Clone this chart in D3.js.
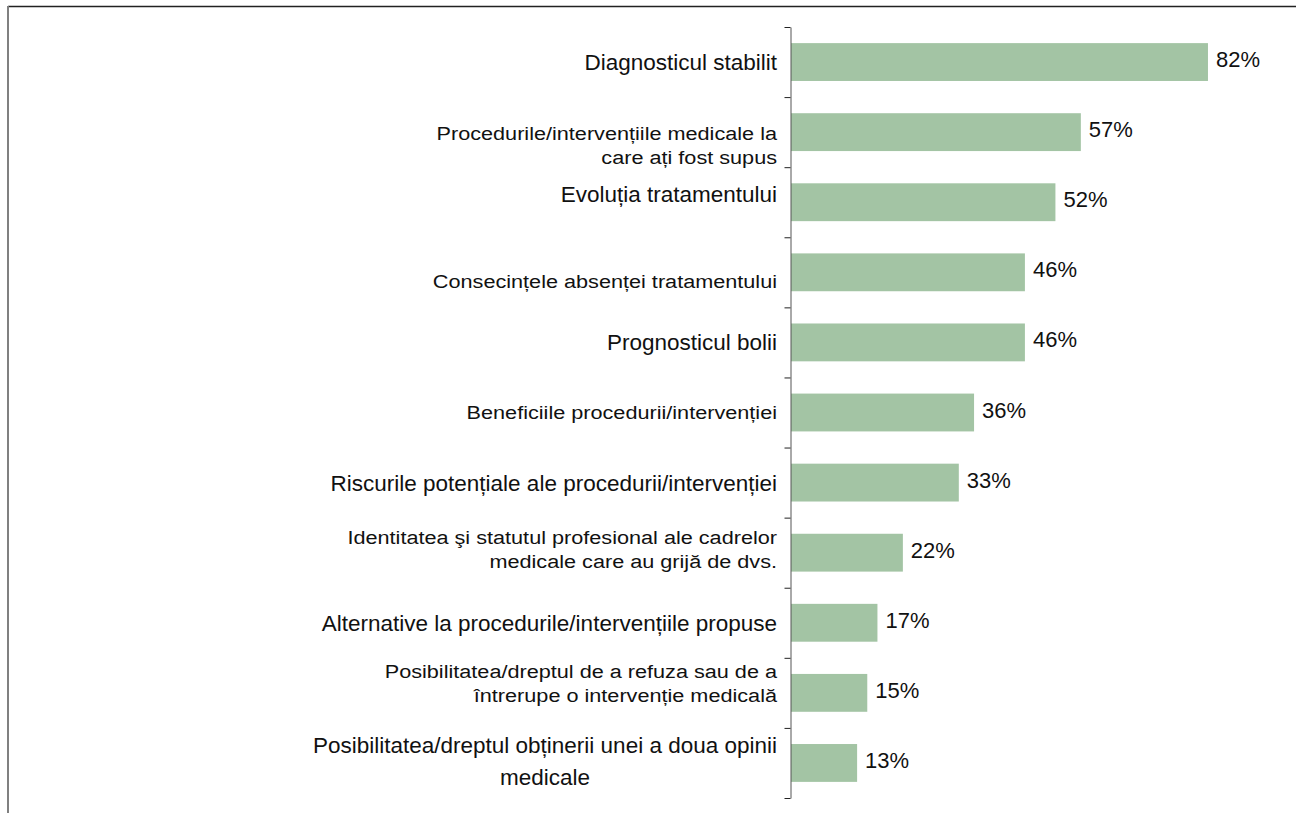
<!DOCTYPE html>
<html>
<head>
<meta charset="utf-8">
<script src="https://cdn.jsdelivr.net/npm/d3@7"></script>
<style>
  body { margin: 0; background: #fff; }
  text { font-family: "Liberation Sans", Arial, sans-serif; fill: #111; }
</style>
</head>
<body>
<div id="chart"></div>
<script>
// data
const categories = [
  ["Diagnosticul stabilit"],
  ["Procedurile/intervențiile medicale la", "care ați fost supus"],
  ["Evoluția tratamentului"],
  ["Consecințele absenței tratamentului"],
  ["Prognosticul bolii"],
  ["Beneficiile procedurii/intervenției"],
  ["Riscurile potențiale ale procedurii/intervenției"],
  ["Identitatea şi statutul profesional ale cadrelor", "medicale care au grijă de dvs."],
  ["Alternative la procedurile/intervențiile propuse"],
  ["Posibilitatea/dreptul de a refuza sau de a", "întrerupe o intervenție medicală"],
  ["Posibilitatea/dreptul obținerii unei a doua opinii", "medicale"]
];
const values = [0.82, 0.57, 0.52, 0.46, 0.46, 0.36, 0.33, 0.22, 0.17, 0.15, 0.13];

// layout
const width = 1296;
const height = 813;
const axisX = 791;
const plotTop = 27, plotBottom = 798;
const barColor = '#a3c4a4';

// label look (the source alternates a big and a squeezed label style)
const smallLabels = [1, 3, 5, 7, 9];
const labelShift = [0, 13, -8, 9, 0, 0, 0, -3, 0, -10, -2];

const keys = categories.map(d => d.join(' '));

const svg = d3.select('#chart').append('svg')
  .attr('width', width)
  .attr('height', height)
  .style('display', 'block');

// frame
svg.append('line').attr('x1', 8).attr('x2', width).attr('y1', 6.5).attr('y2', 6.5)
  .attr('stroke', '#222').attr('stroke-width', 1.5);
svg.append('line').attr('x1', 8).attr('x2', 8).attr('y1', 6).attr('y2', height)
  .attr('stroke', '#808080').attr('stroke-width', 2);

const y = d3.scaleBand()
  .domain(keys)
  .range([plotTop, plotBottom])
  .paddingInner(0.46)
  .paddingOuter(0.23);

const x = d3.scaleLinear()
  .domain([0, 1])
  .range([axisX, axisX + 508.5]);

// bars
svg.append('g').selectAll('rect')
  .data(values)
  .join('rect')
  .attr('x', x(0))
  .attr('y', (d, i) => y(keys[i]))
  .attr('width', d => x(d) - x(0))
  .attr('height', y.bandwidth())
  .attr('fill', barColor);

// axis with ticks on band boundaries
const yIdx = d3.scaleLinear().domain([0, keys.length]).range([plotTop, plotBottom]);
const axis = svg.append('g')
  .attr('transform', `translate(${axisX - 0.5},0)`)
  .call(d3.axisLeft(yIdx).tickValues(d3.range(keys.length + 1)).tickSize(6).tickSizeOuter(0).tickFormat(''));
axis.select('.domain').attr('stroke', '#555');
axis.selectAll('.tick line').attr('stroke', '#222');

// value labels
svg.append('g').selectAll('text')
  .data(values)
  .join('text')
  .attr('x', d => x(d) + 8)
  .attr('y', (d, i) => y(keys[i]) + y.bandwidth() / 2 + 5)
  .style('font-size', '22px')
  .text(d => d3.format('.0%')(d));

// category labels
const labelRight = 777;
categories.forEach((lines, i) => {
  const small = smallLabels.includes(i);
  const fs = small ? 19 : 22.5;
  const sx = small ? 1.14 : 1;
  const lh = small ? 24 : 32;
  const cy = y(keys[i]) + y.bandwidth() / 2 + labelShift[i];
  const first = cy - (lines.length - 1) * lh / 2 + fs * 0.358;
  const t = svg.append('text')
    .attr('transform', `translate(${labelRight},${first}) scale(${sx},1)`)
    .attr('text-anchor', 'end')
    .style('font-size', fs + 'px');
  lines.forEach((ln, j) => {
    t.append('tspan').attr('x', 0).attr('y', j * lh).text(ln);
  });
  // last label: second line centred under the first
  if (i === keys.length - 1) {
    const spans = t.selectAll('tspan').nodes();
    const w0 = spans[0].getComputedTextLength();
    d3.select(spans[1]).attr('text-anchor', 'middle').attr('x', -w0 / 2);
  }
});
</script>
</body>
</html>
